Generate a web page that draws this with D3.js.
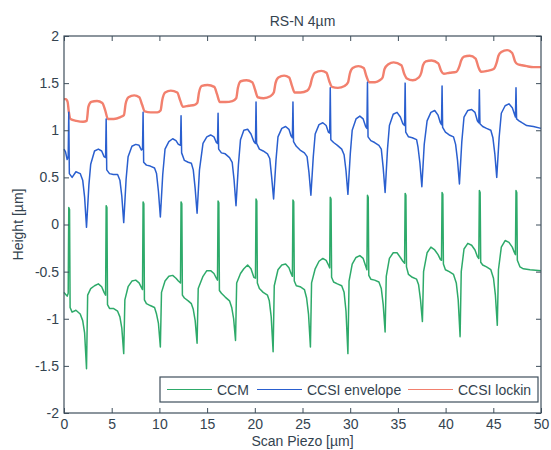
<!DOCTYPE html>
<html>
<head>
<meta charset="utf-8">
<script src="https://cdn.jsdelivr.net/npm/d3@7"></script>
<style>
  html, body { margin: 0; padding: 0; background: #ffffff; }
  svg { display: block; font-family: "Liberation Sans", Arial, Helvetica, sans-serif; }
</style>
</head>
<body>
<svg id="chart" width="551" height="450"></svg>
<script>
// Axis ticks
const xTicks = [0, 5, 10, 15, 20, 25, 30, 35, 40, 45, 50];
const yTicks = [-2, -1.5, -1, -0.5, 0, 0.5, 1, 1.5, 2];

// CCM profile (scan position in µm, height in µm)
const ccmX = [
  0, 0.16, 0.33, 0.44, 0.50, 0.58,
  0.64, 0.85, 1.25, 1.70, 1.96, 2.16, 2.36, 2.48, 2.80, 3.20, 3.60, 3.95, 4.20, 4.36, 4.42, 4.50,
  4.56, 4.77, 5.17, 5.62, 5.86, 6.06, 6.26, 6.38, 6.72, 7.12, 7.52, 7.87, 8.12, 8.23, 8.29, 8.37,
  8.43, 8.64, 9.04, 9.49, 9.70, 9.90, 10.10, 10.22, 10.59, 10.99, 11.39, 11.74, 11.99, 12.21, 12.27, 12.35,
  12.41, 12.62, 13.02, 13.35, 13.55, 13.75, 13.95, 14.07, 14.57, 14.97, 15.37, 15.72, 15.97, 16.09, 16.15, 16.23,
  16.29, 16.50, 16.90, 17.35, 17.58, 17.78, 17.98, 18.10, 18.50, 18.85, 19.25, 19.60, 19.90, 20.07, 20.13, 20.21,
  20.27, 20.48, 20.88, 21.33, 21.52, 21.72, 21.92, 22.04, 22.43, 22.83, 23.23, 23.58, 23.80, 23.94, 24.00, 24.08,
  24.14, 24.35, 24.75, 25.20, 25.43, 25.63, 25.83, 25.95, 26.33, 26.73, 27.13, 27.48, 27.72, 27.85, 27.91, 27.99,
  28.05, 28.26, 28.66, 29.11, 29.36, 29.56, 29.76, 29.88, 30.21, 30.61, 31.01, 31.36, 31.62, 31.75, 31.81, 31.89,
  31.95, 32.16, 32.56, 33.01, 33.26, 33.46, 33.66, 33.78, 34.11, 34.51, 34.91, 35.26, 35.52, 35.70, 35.76, 35.84,
  35.90, 36.11, 36.51, 36.96, 37.17, 37.37, 37.57, 37.69, 38.06, 38.46, 38.86, 39.21, 39.45, 39.57, 39.63, 39.71,
  39.77, 39.98, 40.38, 40.83, 41.12, 41.32, 41.52, 41.64, 41.93, 42.33, 42.73, 43.08, 43.33, 43.48, 43.54, 43.62,
  43.68, 43.89, 44.29, 44.74, 45.02, 45.22, 45.42, 45.54, 45.84, 46.24, 46.64, 46.99, 47.22, 47.32, 47.38, 47.46,
  47.52, 47.80, 48.15, 48.85, 50.00
];
const ccmY = [
  -0.72, -0.74, -0.76, -0.73, 0.18, 0.16,
  -0.88, -0.93, -0.91, -0.95, -1.02, -1.15, -1.53, -0.75, -0.68, -0.65, -0.63, -0.66, -0.72, -0.75, 0.20, 0.18,
  -0.85, -0.89, -0.89, -0.92, -0.98, -1.10, -1.37, -0.80, -0.66, -0.60, -0.59, -0.62, -0.67, -0.69, 0.24, 0.22,
  -0.80, -0.84, -0.86, -0.88, -0.95, -1.05, -1.30, -0.72, -0.60, -0.55, -0.54, -0.57, -0.60, -0.62, 0.24, 0.22,
  -0.75, -0.78, -0.81, -0.84, -0.90, -1.02, -1.26, -0.68, -0.55, -0.49, -0.49, -0.52, -0.57, -0.59, 0.25, 0.23,
  -0.70, -0.73, -0.77, -0.81, -0.88, -1.00, -1.23, -0.62, -0.52, -0.47, -0.43, -0.47, -0.56, -0.57, 0.27, 0.25,
  -0.62, -0.68, -0.72, -0.75, -0.81, -0.98, -1.35, -0.65, -0.48, -0.43, -0.42, -0.46, -0.52, -0.55, 0.26, 0.24,
  -0.60, -0.65, -0.66, -0.69, -0.78, -0.95, -1.30, -0.62, -0.47, -0.39, -0.36, -0.38, -0.43, -0.46, 0.29, 0.27,
  -0.56, -0.61, -0.63, -0.65, -0.72, -0.92, -1.37, -0.60, -0.42, -0.35, -0.33, -0.36, -0.44, -0.48, 0.31, 0.29,
  -0.54, -0.58, -0.59, -0.61, -0.68, -0.85, -1.14, -0.55, -0.36, -0.30, -0.30, -0.35, -0.39, -0.41, 0.33, 0.31,
  -0.45, -0.53, -0.56, -0.58, -0.64, -0.80, -1.03, -0.50, -0.30, -0.24, -0.27, -0.32, -0.37, -0.38, 0.34, 0.32,
  -0.42, -0.48, -0.50, -0.53, -0.62, -0.80, -1.19, -0.50, -0.26, -0.20, -0.22, -0.27, -0.34, -0.36, 0.36, 0.34,
  -0.40, -0.43, -0.45, -0.48, -0.57, -0.75, -1.07, -0.48, -0.24, -0.17, -0.19, -0.24, -0.30, -0.32, 0.36, 0.34,
  -0.38, -0.45, -0.47, -0.48, -0.49
];

// CCSI envelope profile
const envX = [
  0, 0.16, 0.33, 0.44, 0.50,
  0.56, 0.85, 1.25, 1.70, 1.96, 2.16, 2.36, 2.61, 2.80, 3.20, 3.60, 3.95, 4.20, 4.36, 4.42,
  4.48, 4.77, 5.17, 5.62, 5.86, 6.06, 6.26, 6.51, 6.72, 7.12, 7.52, 7.87, 8.12, 8.23, 8.29,
  8.35, 8.64, 9.04, 9.49, 9.70, 9.90, 10.10, 10.35, 10.59, 10.99, 11.39, 11.74, 11.99, 12.21, 12.27,
  12.33, 12.62, 13.02, 13.35, 13.55, 13.75, 13.95, 14.20, 14.57, 14.97, 15.37, 15.72, 15.97, 16.09, 16.15,
  16.21, 16.50, 16.90, 17.35, 17.63, 17.83, 18.03, 18.28, 18.50, 18.85, 19.25, 19.60, 19.90, 20.07, 20.13,
  20.19, 20.48, 20.88, 21.33, 21.57, 21.77, 21.97, 22.22, 22.43, 22.83, 23.23, 23.58, 23.80, 23.94, 24.00,
  24.06, 24.35, 24.75, 25.20, 25.48, 25.68, 25.88, 26.13, 26.33, 26.73, 27.13, 27.48, 27.72, 27.85, 27.91,
  27.97, 28.26, 28.66, 29.11, 29.36, 29.56, 29.76, 30.01, 30.21, 30.61, 31.01, 31.36, 31.62, 31.75, 31.81,
  31.87, 32.16, 32.56, 33.01, 33.26, 33.46, 33.66, 33.91, 34.11, 34.51, 34.91, 35.26, 35.52, 35.70, 35.76,
  35.82, 36.11, 36.51, 36.96, 37.11, 37.31, 37.51, 37.76, 38.06, 38.46, 38.86, 39.21, 39.45, 39.57, 39.63,
  39.69, 39.98, 40.38, 40.83, 41.05, 41.25, 41.45, 41.70, 41.93, 42.33, 42.73, 43.08, 43.33, 43.48, 43.54,
  43.60, 43.89, 44.29, 44.74, 44.96, 45.16, 45.36, 45.61, 45.84, 46.24, 46.64, 46.99, 47.22, 47.32, 47.38,
  47.44, 47.70, 48.00, 48.50, 49.20, 50.00
];
const envY = [
  0.80, 0.77, 0.69, 0.72, 1.19,
  0.54, 0.50, 0.56, 0.54, 0.47, 0.29, -0.03, 0.42, 0.64, 0.78, 0.80, 0.78, 0.72, 0.71, 1.12,
  0.58, 0.54, 0.53, 0.53, 0.47, 0.30, 0.02, 0.48, 0.72, 0.83, 0.85, 0.84, 0.79, 0.80, 1.19,
  0.66, 0.63, 0.62, 0.60, 0.54, 0.35, 0.08, 0.53, 0.80, 0.88, 0.91, 0.89, 0.85, 0.84, 1.155,
  0.76, 0.68, 0.66, 0.65, 0.58, 0.38, 0.12, 0.58, 0.86, 0.93, 0.95, 0.93, 0.87, 0.86, 1.18,
  0.80, 0.76, 0.75, 0.71, 0.66, 0.47, 0.20, 0.63, 0.90, 1.00, 1.01, 0.96, 0.88, 0.86, 1.30,
  0.86, 0.80, 0.78, 0.75, 0.70, 0.50, 0.27, 0.68, 0.93, 1.02, 1.04, 1.01, 0.94, 0.92, 1.30,
  0.88, 0.83, 0.79, 0.76, 0.72, 0.55, 0.31, 0.72, 0.96, 1.06, 1.08, 1.05, 0.98, 0.97, 1.45,
  0.90, 0.87, 0.84, 0.80, 0.74, 0.57, 0.32, 0.75, 1.00, 1.12, 1.15, 1.12, 1.04, 1.02, 1.51,
  0.93, 0.89, 0.87, 0.84, 0.80, 0.60, 0.34, 0.80, 1.05, 1.17, 1.19, 1.14, 1.07, 1.05, 1.50,
  0.98, 0.93, 0.92, 0.90, 0.82, 0.65, 0.40, 0.85, 1.10, 1.19, 1.21, 1.16, 1.08, 1.06, 1.47,
  1.03, 0.98, 0.95, 0.93, 0.85, 0.68, 0.43, 0.88, 1.14, 1.21, 1.22, 1.19, 1.10, 1.08, 1.43,
  1.07, 1.04, 1.02, 1.00, 0.92, 0.75, 0.50, 0.92, 1.18, 1.26, 1.28, 1.24, 1.17, 1.14, 1.45,
  1.12, 1.10, 1.08, 1.05, 1.04, 1.02
];

// CCSI lock-in profile
const lockX = [
  0, 0.20, 0.38, 0.50,
  0.68, 1.30, 2.00, 2.38, 2.56, 2.86, 3.46, 4.02, 4.32,
  4.60, 5.22, 5.92, 6.28, 6.46, 6.76, 7.36, 7.89, 8.19,
  8.47, 9.09, 9.79, 10.12, 10.30, 10.60, 11.20, 11.87, 12.17,
  12.45, 13.07, 13.70, 13.97, 14.15, 14.45, 15.05, 15.75, 16.05,
  16.33, 16.95, 17.65, 18.05, 18.23, 18.53, 19.13, 19.73, 20.03,
  20.31, 20.93, 21.63, 21.99, 22.17, 22.47, 23.07, 23.60, 23.90,
  24.18, 24.80, 25.50, 25.80, 26.00, 26.30, 26.98, 27.51, 27.81,
  28.09, 28.71, 29.41, 29.78, 29.96, 30.26, 30.86, 31.41, 31.71,
  31.99, 32.61, 33.10, 33.40, 33.60, 34.00, 34.55, 35.36, 35.66,
  35.94, 36.56, 37.20, 37.45, 37.63, 37.93, 38.53, 39.23, 39.53,
  39.81, 40.43, 41.13, 41.45, 41.63, 41.93, 42.53, 43.14, 43.44,
  43.72, 44.34, 45.04, 45.36, 45.54, 45.84, 46.44, 46.98, 47.28,
  47.56, 48.00, 48.50, 49.20, 50.00
];
const lockY = [
  1.33, 1.33, 1.30, 1.20,
  1.12, 1.10, 1.09, 1.10, 1.25, 1.30, 1.31, 1.29, 1.21,
  1.12, 1.12, 1.14, 1.16, 1.28, 1.35, 1.37, 1.35, 1.27,
  1.20, 1.19, 1.19, 1.21, 1.32, 1.40, 1.42, 1.40, 1.32,
  1.25, 1.26, 1.27, 1.29, 1.40, 1.47, 1.48, 1.46, 1.38,
  1.30, 1.30, 1.31, 1.34, 1.45, 1.52, 1.53, 1.51, 1.43,
  1.35, 1.34, 1.36, 1.40, 1.50, 1.56, 1.58, 1.56, 1.47,
  1.40, 1.40, 1.42, 1.47, 1.55, 1.61, 1.63, 1.61, 1.52,
  1.46, 1.45, 1.47, 1.51, 1.60, 1.66, 1.68, 1.66, 1.57,
  1.51, 1.51, 1.53, 1.56, 1.65, 1.70, 1.72, 1.69, 1.60,
  1.55, 1.53, 1.56, 1.61, 1.69, 1.73, 1.74, 1.71, 1.63,
  1.60, 1.61, 1.62, 1.68, 1.74, 1.78, 1.79, 1.76, 1.67,
  1.62, 1.63, 1.65, 1.72, 1.79, 1.83, 1.85, 1.82, 1.73,
  1.70, 1.69, 1.68, 1.67, 1.67
];

const seriesNames = ["CCM", "CCSI envelope", "CCSI lockin"];
const seriesColors = ["#2eaa6a", "#2a5fcf", "#f2806e"];

const svg = d3.select("#chart");
const W = 551, H = 450;
const plot = { left: 64, right: 541, top: 36, bottom: 413 };
const axisColor = "#3f4f5c";
const textColor = "#34434f";

svg.append("rect").attr("width", W).attr("height", H).attr("fill", "#ffffff");

const x = d3.scaleLinear().domain([0, 50]).range([plot.left, plot.right]);
const y = d3.scaleLinear().domain([-2, 2]).range([plot.bottom, plot.top]);

// Traces
const line = d3.line().x(d => x(d[0])).y(d => y(d[1]));
const lockPts = d3.zip(lockX, lockY);
const envPts = d3.zip(envX, envY);
const ccmPts = d3.zip(ccmX, ccmY);

const traces = svg.append("g");
traces.append("path").datum(lockPts)
  .attr("d", line.curve(d3.curveMonotoneX))
  .attr("fill", "none").attr("stroke", seriesColors[2]).attr("stroke-width", 2.4)
  .attr("stroke-linejoin", "round");
line.curve(d3.curveLinear);
traces.append("path").datum(envPts)
  .attr("d", line)
  .attr("fill", "none").attr("stroke", seriesColors[1]).attr("stroke-width", 1.5)
  .attr("stroke-linejoin", "round");
traces.append("path").datum(ccmPts)
  .attr("d", line)
  .attr("fill", "none").attr("stroke", seriesColors[0]).attr("stroke-width", 1.5)
  .attr("stroke-linejoin", "round");

// Axes with inward ticks on all four sides
const fmt = d => String(d);
function styleAxis(g) {
  g.select(".domain").remove();
  g.selectAll(".tick line").attr("stroke", axisColor);
  g.selectAll(".tick text").attr("fill", textColor).attr("font-size", 14);
}
svg.append("g").attr("transform", `translate(0,${plot.bottom})`)
  .call(d3.axisBottom(x).tickValues(xTicks).tickFormat(fmt).tickSizeInner(-5).tickSizeOuter(0).tickPadding(6))
  .call(styleAxis);
svg.append("g").attr("transform", `translate(0,${plot.top})`)
  .call(d3.axisTop(x).tickValues(xTicks).tickFormat("").tickSizeInner(-5).tickSizeOuter(0))
  .call(styleAxis);
svg.append("g").attr("transform", `translate(${plot.left},0)`)
  .call(d3.axisLeft(y).tickValues(yTicks).tickFormat(fmt).tickSizeInner(-5).tickSizeOuter(0).tickPadding(5))
  .call(styleAxis);
svg.append("g").attr("transform", `translate(${plot.right},0)`)
  .call(d3.axisRight(y).tickValues(yTicks).tickFormat("").tickSizeInner(-5).tickSizeOuter(0))
  .call(styleAxis);

svg.append("rect")
  .attr("x", plot.left).attr("y", plot.top)
  .attr("width", plot.right - plot.left).attr("height", plot.bottom - plot.top)
  .attr("fill", "none").attr("stroke", axisColor).attr("stroke-width", 1.2);

// Titles
svg.append("text").attr("x", (plot.left + plot.right) / 2).attr("y", 26)
  .attr("text-anchor", "middle").attr("font-size", 14).attr("fill", textColor)
  .text("RS-N 4µm");
svg.append("text").attr("x", (plot.left + plot.right) / 2).attr("y", 446)
  .attr("text-anchor", "middle").attr("font-size", 14).attr("fill", textColor)
  .text("Scan Piezo [µm]");
svg.append("text")
  .attr("transform", `translate(23,${(plot.top + plot.bottom) / 2}) rotate(-90)`)
  .attr("text-anchor", "middle").attr("font-size", 14).attr("fill", textColor)
  .text("Height [µm]");

// Legend
const legend = svg.append("g");
legend.append("rect").attr("x", 160).attr("y", 377).attr("width", 378).attr("height", 25)
  .attr("fill", "#ffffff").attr("stroke", axisColor).attr("stroke-width", 1.2);
const legendX = [167, 257, 408];
const legendLen = 45;
seriesNames.forEach((name, i) => {
  legend.append("line")
    .attr("x1", legendX[i]).attr("x2", legendX[i] + legendLen)
    .attr("y1", 389.5).attr("y2", 389.5)
    .attr("stroke", seriesColors[i]).attr("stroke-width", 1.2);
  legend.append("text")
    .attr("x", legendX[i] + legendLen + 5).attr("y", 394.5)
    .attr("font-size", 14).attr("fill", textColor)
    .text(name);
});
</script>
</body>
</html>
